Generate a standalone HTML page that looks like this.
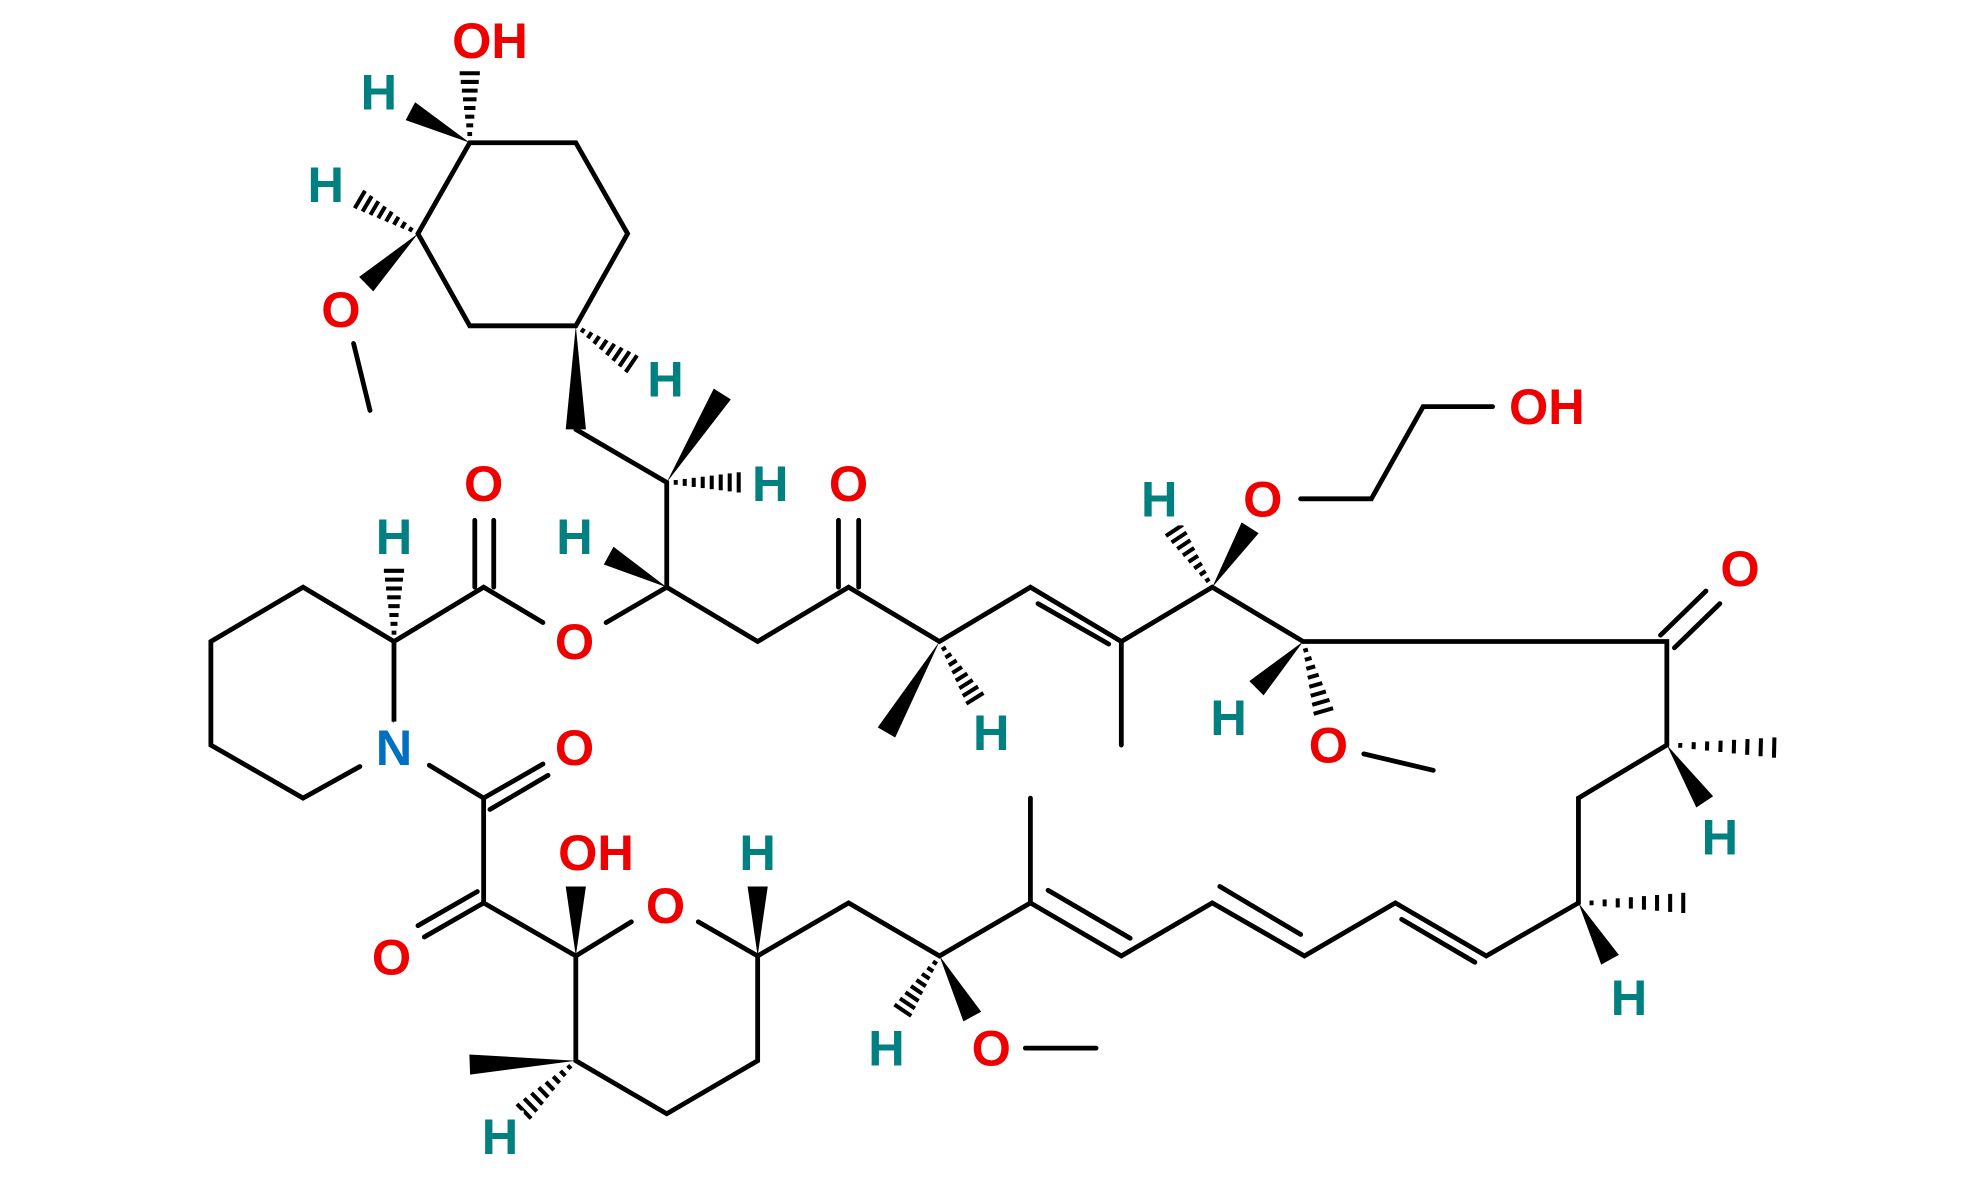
<!DOCTYPE html>
<html><head><meta charset="utf-8"><style>
html,body{margin:0;padding:0;background:#fff}
svg{display:block}
text{font-family:"Liberation Sans",sans-serif;font-weight:bold;font-size:40px;text-anchor:middle;dominant-baseline:central;paint-order:stroke;stroke:#fff;stroke-width:14px}
.o{fill:#ee0000}.h{fill:#008080}.n{fill:#0070c0}
</style></head><body>
<svg id="s" width="1980" height="1182" viewBox="0 0 1568 936" xmlns="http://www.w3.org/2000/svg">
<g id="b" stroke="#000" stroke-width="3.8" fill="none" stroke-linecap="round">
<path d="M372,113 L456,113 L497,185 L456,258 L372,258 L331,185 Z"/>
<path d="M280,272 L293,325"/>
<path d="M456,340 L528,382 L528,465 M528,465 L480,493 M528,465 L600,508 L672,465 L744,508 L816,465 L888,508 L888,590 M888,508 L960,465 L1032,508 L1320,508 L1320,590 L1250,632 L1250,715 L1177,757 L1105,715 L1033,757 L960,715 L888,757 L816,715 L816,632 M816,715 L744,757 L672,715 L600,757 L553,730 M600,757 L600,840 L528,882 L456,840 L456,757 L500,730 M456,757 L383,715 L383,632 L340,606 M312,572 L312,508 L240,465 L167,508 L167,590 L240,632 L285,607 M312,508 L383,465 L430,493"/>
<path d="M664,465 L664,412 M680,465 L680,412"/>
<path d="M376,465 L376,412 M391,465 L391,412"/>
<path d="M822,478 L878,510"/>
<path d="M1326,513 L1362,478 M1315,503 L1351,468"/>
<path d="M1030,395 L1086,395 L1127,322 L1182,322"/>
<path d="M1080,597 L1135,610 M812,830 L868,830"/>
<path d="M1110,728 L1168,762 M966,702 L1030,740 M895,743 L830,705"/>
<path d="M383,632 L430,605 M388,641 L434,614"/>
<path d="M383,715 L336,742 M378,706 L331,733"/>
</g>
<g id="w" fill="#000"></g>
<text x="388" y="32" class="o">OH</text>
<text x="300" y="73" class="h">H</text>
<text x="258" y="146" class="h">H</text>
<text x="270" y="245" class="o">O</text>
<text x="527" y="300" class="h">H</text>
<text x="610" y="383" class="h">H</text>
<text x="455" y="425" class="h">H</text>
<text x="455" y="508" class="o">O</text>
<text x="672" y="383" class="o">O</text>
<text x="383" y="383" class="o">O</text>
<text x="312" y="425" class="h">H</text>
<text x="312" y="592" class="n">N</text>
<text x="455" y="592" class="o">O</text>
<text x="785" y="580" class="h">H</text>
<text x="918" y="395" class="h">H</text>
<text x="1000" y="395" class="o">O</text>
<text x="1225" y="322" class="o">OH</text>
<text x="973" y="568" class="h">H</text>
<text x="1052" y="590" class="o">O</text>
<text x="1378" y="450" class="o">O</text>
<text x="1362" y="663" class="h">H</text>
<text x="1290" y="790" class="h">H</text>
<text x="702" y="830" class="h">H</text>
<text x="785" y="830" class="o">O</text>
<text x="600" y="675" class="h">H</text>
<text x="527" y="717" class="o">O</text>
<text x="472" y="675" class="o">OH</text>
<text x="310" y="758" class="o">O</text>
<text x="396" y="900" class="h">H</text>
</svg>
<script>
var g=document.getElementById('w'),NS='http://www.w3.org/2000/svg';
function wedge(x1,y1,x2,y2){var dx=x2-x1,dy=y2-y1,l=Math.hypot(dx,dy),px=-dy/l*8,py=dx/l*8;var p=document.createElementNS(NS,'polygon');p.setAttribute('points',x1+','+y1+' '+(x2+px)+','+(y2+py)+' '+(x2-px)+','+(y2-py));g.appendChild(p);}
function hash(x1,y1,x2,y2){var dx=x2-x1,dy=y2-y1,l=Math.hypot(dx,dy),n=8;for(var i=1;i<=n;i++){var t=i/n,w=1+7*t,cx=x1+dx*t,cy=y1+dy*t,px=-dy/l*w,py=dx/l*w;var q=document.createElementNS(NS,'line');q.setAttribute('x1',cx+px);q.setAttribute('y1',cy+py);q.setAttribute('x2',cx-px);q.setAttribute('y2',cy-py);q.setAttribute('stroke','#000');q.setAttribute('stroke-width','3.2');g.appendChild(q);}}
hash(372,113,372,58);wedge(372,113,325,88);
hash(331,185,285,158);wedge(331,185,290,225);
hash(456,258,500,288);wedge(456,258,456,340);
wedge(528,382,572,312);hash(528,382,585,382);
wedge(528,465,482,440);
wedge(744,508,702,580);hash(744,508,772,553);
hash(960,465,930,420);wedge(960,465,990,418);
wedge(1032,508,995,545);hash(1032,508,1048,563);
hash(1320,590,1405,592);wedge(1320,590,1350,635);
hash(1250,715,1333,715);wedge(1250,715,1275,760);
hash(744,757,715,800);wedge(744,757,770,805);
wedge(600,757,600,702);
wedge(456,757,456,702);
wedge(456,840,372,843);hash(456,840,415,880);
hash(312,508,312,452);
</script>
</body></html>
